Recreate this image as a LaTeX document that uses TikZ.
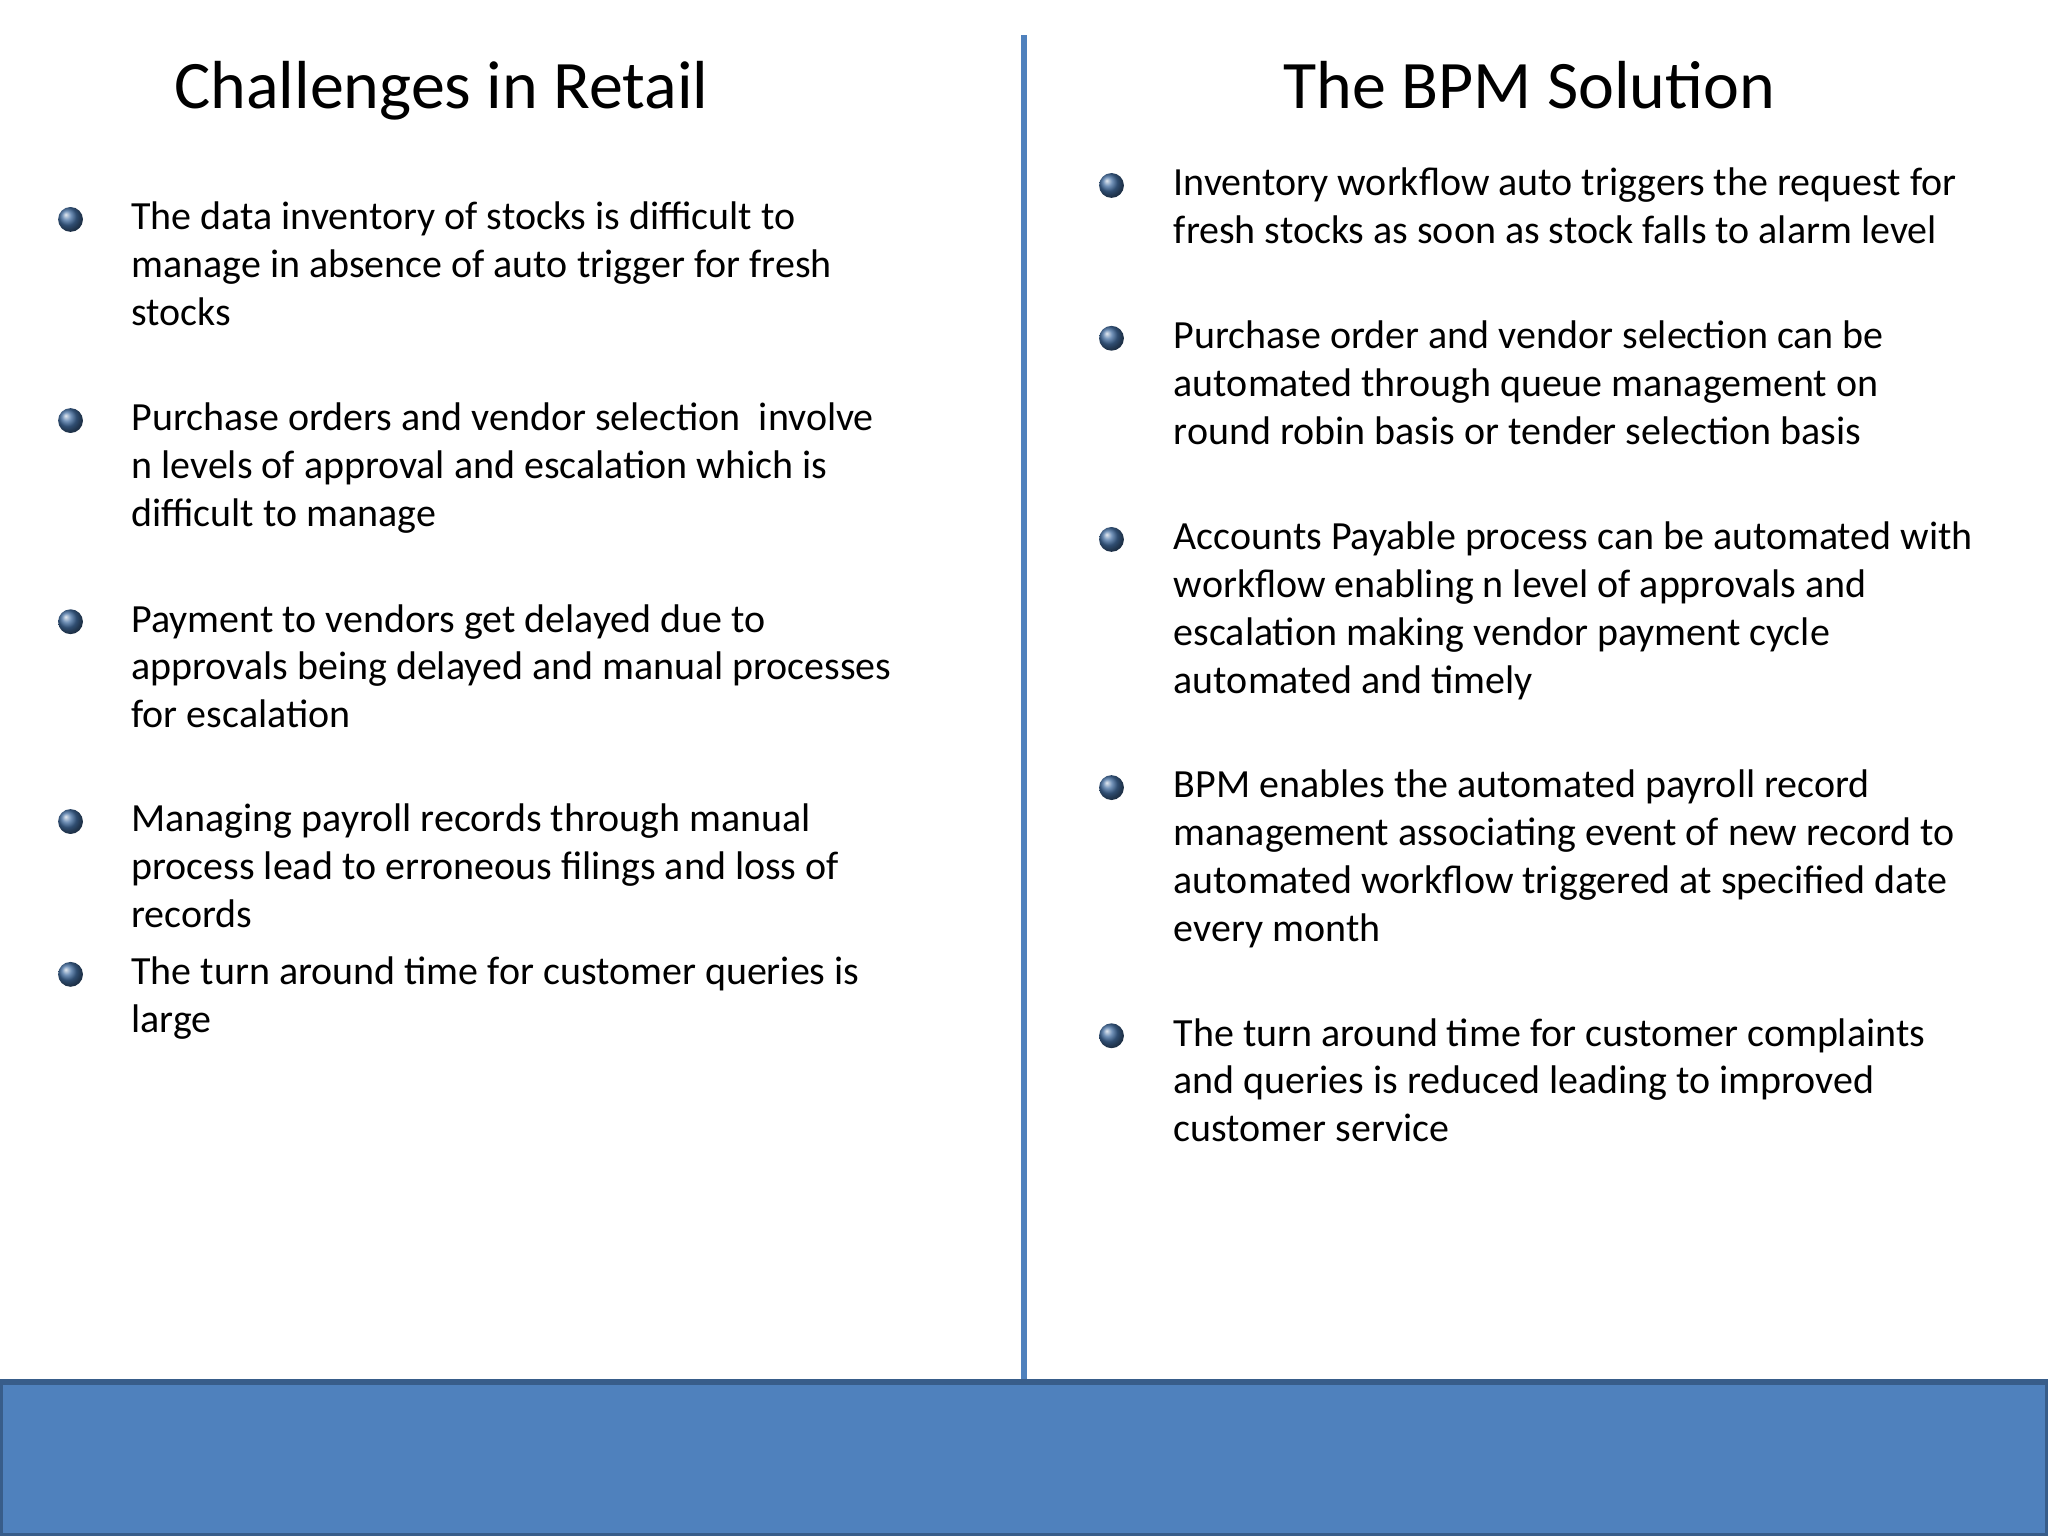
\documentclass[tikz,border=0pt]{standalone}
\usepackage{fontspec}
\setmainfont{Carlito}
\definecolor{acc}{HTML}{4F81BD}
\definecolor{accd}{HTML}{385D8A}
\begin{document}
\begin{tikzpicture}[x=0.01cm,y=-0.01cm,
  txt/.style={anchor=north west,inner sep=0pt,align=left,font=\fontsize{8.7pt}{10.4pt}\selectfont},
  ttl/.style={anchor=base,inner sep=0pt,font=\fontsize{14.8pt}{17pt}\selectfont},
  bul/.style={circle,inner sep=0pt,minimum size=0.19cm,ball color=acc!85!black}]
\useasboundingbox (0,0) rectangle (1568,1176);
\fill[white] (0,0) rectangle (1568,1176);
\draw[acc,line width=1.2pt] (784,27) -- (784,1058);
\draw[accd,fill=acc,line width=1.2pt] (0,1058) rectangle (1568,1176);
\node[ttl] (t1) at (338,83) {Challenges in Retail};
\node[ttl] (t2) at (1171,83) {The BPM Solution};
\foreach \y/\t [count=\i] in {180/{The data inventory of stocks is difficult to\\manage in absence of auto trigger for fresh\\stocks},
 334/{Purchase orders and vendor selection\ \ involve\\n levels of approval and escalation which is\\difficult to manage},
 488/{Payment to vendors get delayed due to\\approvals being delayed and manual processes\\for escalation},
 641/{Managing payroll records through manual\\process lead to erroneous filings and loss of\\records},
 758/{The turn around time for customer queries is\\large}}{
 \node[bul] (lb\i) at (54,\y-12) {};
 \node[txt] (l\i) at (100,\y-26) {\t};}
\foreach \y/\t [count=\i] in {154/{Inventory workflow auto triggers the request for\\fresh stocks as soon as stock falls to alarm level},
 271/{Purchase order and vendor selection can be\\automated through queue management on\\round robin basis or tender selection basis},
 425/{Accounts Payable process can be automated with\\workflow enabling n level of approvals and\\escalation making vendor payment cycle\\automated and timely},
 615/{BPM enables the automated payroll record\\management associating event of new record to\\automated workflow triggered at specified date\\every month},
 805/{The turn around time for customer complaints\\and queries is reduced leading to improved\\customer service}}{
 \node[bul] (rb\i) at (851,\y-12) {};
 \node[txt] (r\i) at (898,\y-26) {\t};}
\end{tikzpicture}
\end{document}
